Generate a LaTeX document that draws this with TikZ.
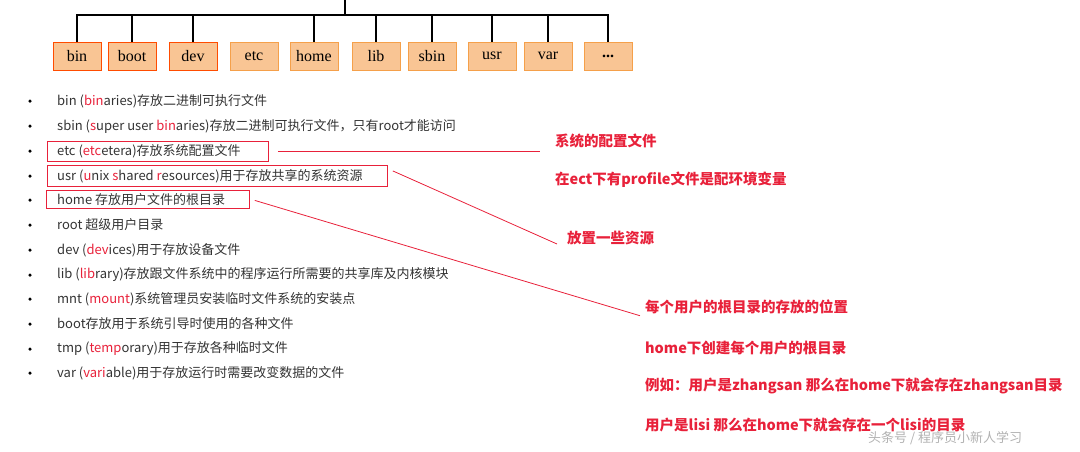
\documentclass[tikz,border=0pt]{standalone}
\usepackage{fontspec}
\setmainfont{Liberation Serif}
\newfontfamily\cjk{Noto Sans CJK SC}
\usepackage{xcolor}
\definecolor{boxfill}{HTML}{F9C594}
\definecolor{boxdraw}{HTML}{F5A04A}
\definecolor{notered}{HTML}{E8213A}
\definecolor{listgray}{HTML}{333333}
\newcommand{\rd}[1]{\textcolor{notered}{#1}}

\begin{document}
\begin{tikzpicture}[
    x=1pt, y=-1pt,
    dirbox/.style={rectangle, draw=boxdraw, fill=boxfill, thick, minimum width=48pt, minimum height=28pt, inner sep=0pt, font=\fontsize{16}{16}\selectfont},
    reddirbox/.style={dirbox, draw=orange!60!red},
    item/.style={anchor=west, inner sep=0pt, text=listgray, font=\cjk\fontsize{13}{13}\selectfont},
    bullet/.style={circle, fill=black, inner sep=0pt, minimum size=3.5pt},
    hlbox/.style={rectangle, draw=notered, thick, inner sep=0pt, anchor=north west},
    note/.style={anchor=west, inner sep=0pt, text=notered, font=\cjk\bfseries\fontsize{14.5}{14.5}\selectfont},
    tree/.style={very thick, black},
    pointer/.style={notered, thick}
]
\useasboundingbox (0,0) rectangle (1080,451);

% 目录树
\node[reddirbox] (bin)  at (77,56)  {bin};
\node[reddirbox] (boot) at (132,56) {boot};
\node[reddirbox] (dev)  at (193,56) {dev};
\node[dirbox] (etc)  at (254,56) {etc};
\node[dirbox] (home) at (314,56) {home};
\node[dirbox] (lib)  at (376,56) {lib};
\node[dirbox] (sbin) at (432,56) {sbin};
\node[dirbox] (usr)  at (492,56) {usr};
\node[dirbox] (var)  at (548,56) {var};
\node[dirbox] (more) at (608,56) {\textbf{...}};

\coordinate (root) at (345,0);
\coordinate (bar) at (345,15);
\draw[tree] (root) -- (bar);
\draw[tree] (bin.north) |- (bar) -| (more.north);
\foreach \d/\x in {boot/132, dev/193, home/314, lib/376, sbin/432, usr/492, var/548}
    \draw[tree] (\d.north) -- (\x,15);

% 目录说明
\foreach \y [count=\i] in {101,126,151,176,200,225,250,275,299,324,349,373}
    \node[bullet] (b\i) at (30,\y) {};

\node[item] (l1)  at (57,101) {bin (\rd{bin}aries)存放二进制可执行文件};
\node[item] (l2)  at (57,126) {sbin (\rd{s}uper user \rd{bin}aries)存放二进制可执行文件，只有root才能访问};
\node[item] (l3)  at (57,151) {etc (\rd{etc}etera)存放系统配置文件};
\node[item] (l4)  at (57,176) {usr (\rd{u}nix \rd{s}hared \rd{r}esources)用于存放共享的系统资源};
\node[item] (l5)  at (57,200) {home 存放用户文件的根目录};
\node[item] (l6)  at (57,225) {root 超级用户目录};
\node[item] (l7)  at (57,250) {dev (\rd{dev}ices)用于存放设备文件};
\node[item] (l8)  at (57,275) {lib (\rd{lib}rary)存放跟文件系统中的程序运行所需要的共享库及内核模块};
\node[item] (l9)  at (57,299) {mnt (\rd{mount})系统管理员安装临时文件系统的安装点};
\node[item] (l10) at (57,324) {boot存放用于系统引导时使用的各种文件};
\node[item] (l11) at (57,349) {tmp (\rd{temp}orary)用于存放各种临时文件};
\node[item] (l12) at (57,373) {var (\rd{vari}able)用于存放运行时需要改变数据的文件};

% 红框
\node[hlbox, minimum width=221pt, minimum height=20pt] (etcmark)  at (47,141) {};
\node[hlbox, minimum width=340pt, minimum height=21pt] (usrmark)  at (47,165) {};
\node[hlbox, minimum width=203pt, minimum height=18pt] (homemark) at (46,190) {};

% 注释
\node[note] (n1) at (555,141) {系统的配置文件};
\node[note] (n2) at (555,180) {在ect下有profile文件是配环境变量};
\node[note] (n3) at (567,238) {放置一些资源};
\node[note] (n4) at (645,307) {每个用户的根目录的存放的位置};
\node[note] (n5) at (645,348) {home下创建每个用户的根目录};
\node[note] (n6) at (645,386) {例如：用户是zhangsan 那么在home下就会存在zhangsan目录};
\node[note] (n7) at (645,425) {用户是lisi 那么在home下就会存在一个lisi的目录};

\draw[pointer] ([xshift=9pt]etcmark.east) -- ([xshift=-15pt]n1.west |- etcmark.east);
\draw[pointer] ([xshift=5pt,yshift=5pt]usrmark.east) -- ([xshift=-10pt,yshift=-6pt]n3.west);
\draw[pointer] ([xshift=5pt,yshift=-1pt]homemark.east) -- ([xshift=-5pt,yshift=-16pt]n4.north west);

% 水印
\node[anchor=west, inner sep=0pt, text=gray!60, font=\cjk\fontsize{13}{13}\selectfont] (wm) at (868,438) {头条号 / 程序员小新人学习};
\end{tikzpicture}
\end{document}
